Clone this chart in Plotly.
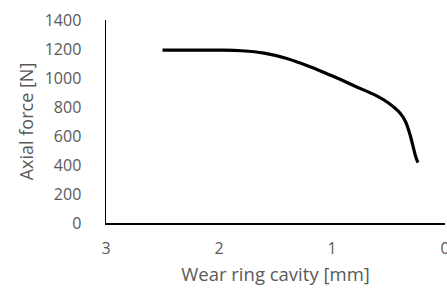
import plotly.graph_objects as go

cavity_mm = [2.5, 2.25, 2.0, 1.8, 1.6, 1.4, 1.2, 1.0, 0.8, 0.6, 0.5, 0.4, 0.35, 0.31, 0.28, 0.26, 0.24]
axial_force_n = [1192, 1192, 1192, 1188, 1172, 1135, 1080, 1015, 945, 875, 828, 760, 700, 610, 520, 460, 416]

x_ticks = [3, 2, 1, 0]
y_ticks = [0, 200, 400, 600, 800, 1000, 1200, 1400]

font_family = "Open Sans, Liberation Sans, sans-serif"
grey = "#595959"

fig = go.Figure(go.Scatter(
    x=cavity_mm, y=axial_force_n, mode="lines",
    line=dict(color="black", width=3.2, shape="spline", smoothing=1.0),
    hoverinfo="skip",
))

fig.update_layout(
    width=447, height=295,
    margin=dict(l=106, r=2, t=20, b=72),
    paper_bgcolor="white", plot_bgcolor="white",
    showlegend=False,
    font=dict(family=font_family, size=16, color=grey),
)
fig.update_xaxes(
    range=[3, 0], tickvals=x_ticks, ticktext=[str(v) for v in x_ticks],
    showgrid=False, zeroline=False, automargin=False,
    showline=True, linecolor="black", linewidth=1.5,
    ticks="outside", ticklen=0, ticklabelstandoff=10,
    ticklabeloverflow="allow",
    tickfont=dict(size=16, color=grey),
    title=dict(text="Wear ring cavity [mm]", font=dict(size=18.5, color=grey), standoff=10),
)
fig.update_yaxes(
    range=[0, 1400], tickvals=y_ticks,
    showgrid=False, zeroline=False, automargin=False,
    showline=True, linecolor="black", linewidth=1.5,
    ticks="outside", ticklen=0, ticklabelstandoff=20,
    tickfont=dict(size=16, color=grey),
    title=dict(text="Axial force [N]", font=dict(size=18, color=grey), standoff=6),
)

fig.write_html(
    "out.html",
    config={"displayModeBar": False, "staticPlot": True},
    post_script="document.body.style.margin='0';document.body.style.overflow='hidden';",
)
